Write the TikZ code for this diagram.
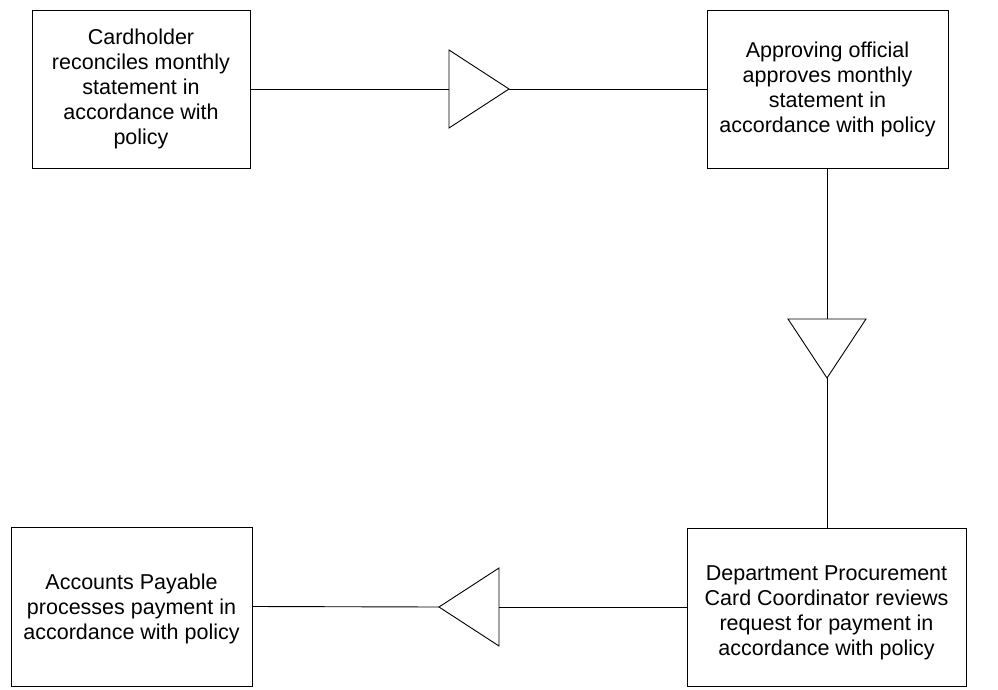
\documentclass[tikz,border=0pt]{standalone}
\usepackage{fontspec}
\setmainfont{Liberation Sans}
\begin{document}
\begin{tikzpicture}[x=1pt,y=-1pt,
  box/.style={draw, line width=0.9pt, inner sep=0pt, outer sep=0pt, align=center,
    font=\fontsize{21.5}{25}\selectfont},
  conn/.style={line width=0.9pt},
  tri/.style={draw, line width=0.9pt, fill=white}]
\useasboundingbox (0,0) rectangle (998,690);
% boxes
\node[box, minimum width=218pt, minimum height=158pt] (b1) at (141,89)
  {Cardholder\\reconciles monthly\\statement in\\accordance with\\policy};
\node[box, minimum width=241pt, minimum height=158pt] (b2) at (827.5,89)
  {Approving official\\approves monthly\\statement in\\accordance with policy};
\node[box, minimum width=279pt, minimum height=158pt] (b3) at (826.5,607)
  {\rule{0pt}{27pt}Department Procurement\\Card Coordinator reviews\\request for payment in\\accordance with policy};
\node[box, minimum width=241pt, minimum height=159pt] (b4) at (131.5,606.5)
  {\rule{0pt}{19.5pt}Accounts Payable\\processes payment in\\accordance with policy};
% triangle 1 (pointing right)
\coordinate (t1l) at (449,89);
\coordinate (t1a) at (509,89);
\draw[tri] (449,50) -- (t1a) -- (449,128) -- cycle;
% triangle 2 (pointing down)
\coordinate (t2t) at (827,319);
\coordinate (t2a) at (827,378);
\draw[tri] (788,319) -- (866,319) -- (t2a) -- cycle;
% triangle 3 (pointing left)
\coordinate (t3r) at (499,607);
\coordinate (t3a) at (439,607);
\draw[tri] (499,568) -- (t3a) -- (499,646) -- cycle;
% connectors
\draw[conn] (b1.east) -- (t1l);
\draw[conn] (t1a) -- (b2.west);
\draw[conn] (b2.south -| t2t) -- (t2t);
\draw[conn] (t2a) -- (b3.north -| t2a);
\draw[conn] (b3.west) -- (t3r);
\draw[conn] (t3a) -- (b4.east);
\end{tikzpicture}
\end{document}
